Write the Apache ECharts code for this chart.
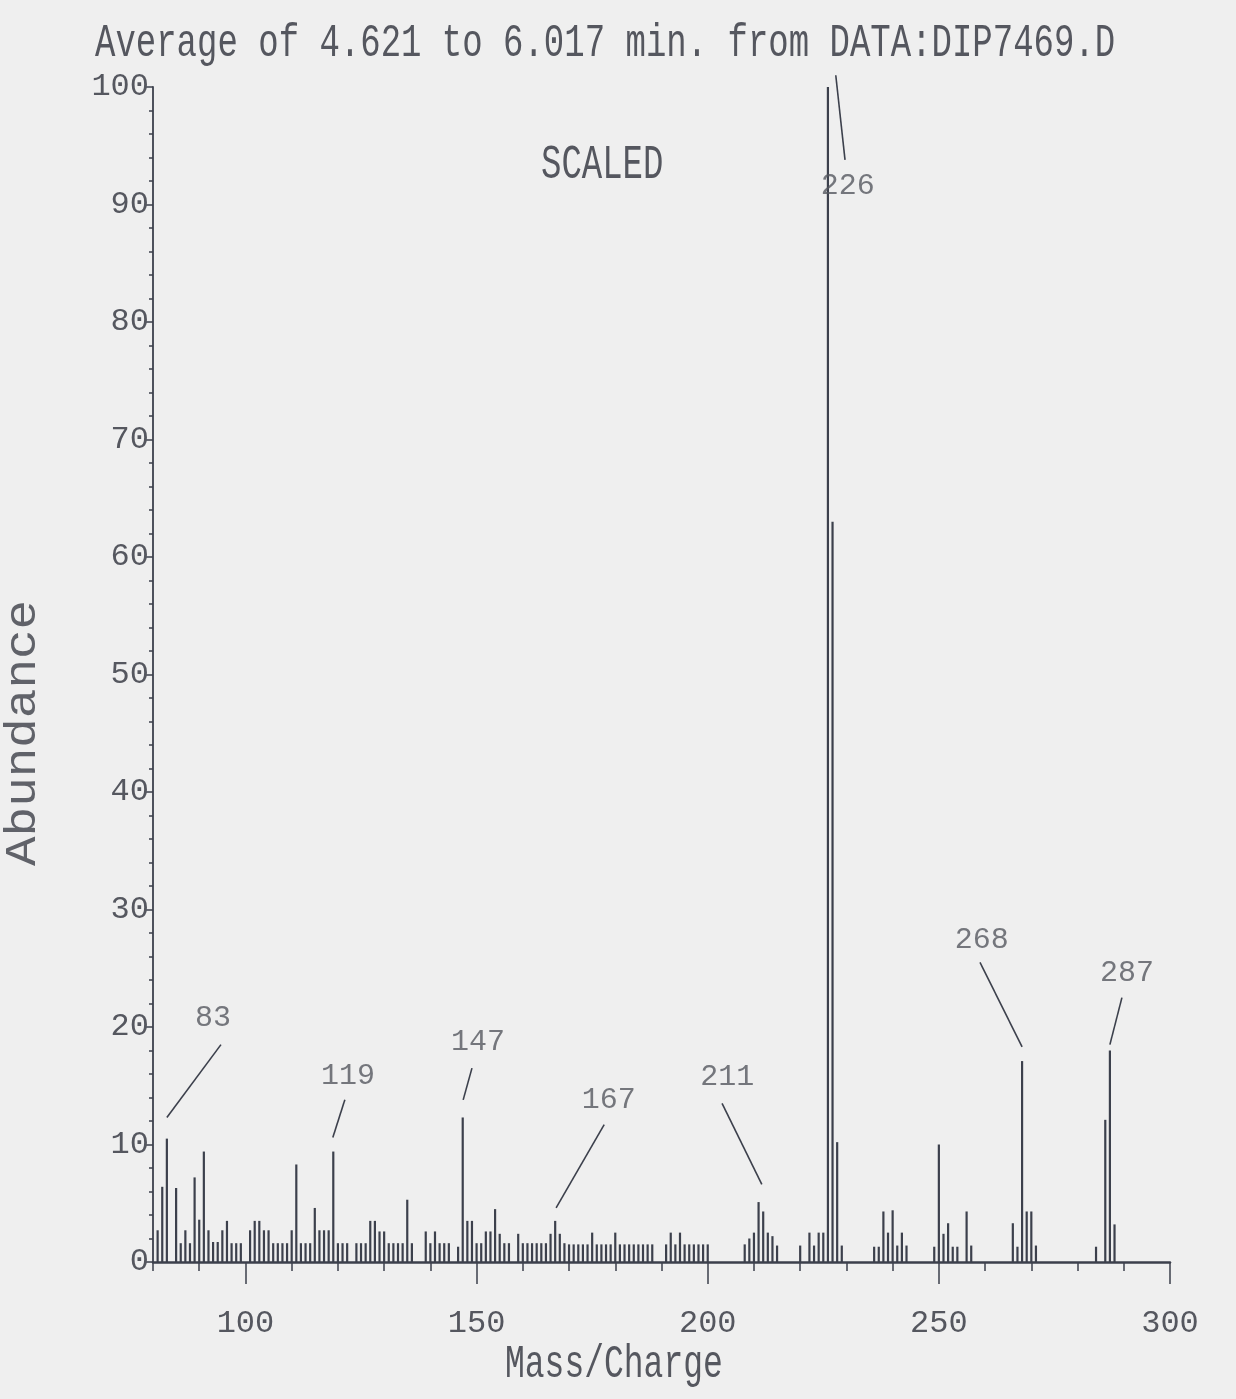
<!DOCTYPE html>
<html><head><meta charset="utf-8">
<script src="https://cdn.jsdelivr.net/npm/echarts@6/dist/echarts.min.js"></script>
<style>html,body{margin:0;padding:0;background:#efefef}#c{width:1236px;height:1399px}</style>
</head><body><div id="c"></div>
<script>
// m/z values and their relative abundances (%)
const masses = [81,82,83,85,86,87,88,89,90,91,92,93,94,95,96,97,98,99,101,102,103,104,105,106,107,108,109,110,111,112,113,114,115,116,117,118,119,120,121,122,124,125,126,127,128,129,130,131,132,133,134,135,136,139,140,141,142,143,144,146,147,148,149,150,151,152,153,154,155,156,157,159,160,161,162,163,164,165,166,167,168,169,170,171,172,173,174,175,176,177,178,179,180,181,182,183,184,185,186,187,188,191,192,193,194,195,196,197,198,199,200,208,209,210,211,212,213,214,215,220,222,223,224,225,226,227,228,229,236,237,238,239,240,241,242,243,249,250,251,252,253,254,256,257,266,267,268,269,270,271,284,286,287,288];
const abundances = [2.7,6.4,10.5,6.3,1.6,2.7,1.6,7.2,3.6,9.4,2.7,1.7,1.7,2.7,3.5,1.6,1.6,1.6,2.7,3.5,3.5,2.7,2.7,1.6,1.6,1.6,1.6,2.7,8.3,1.6,1.6,1.6,4.6,2.7,2.7,2.7,9.4,1.6,1.6,1.6,1.6,1.6,1.6,3.5,3.5,2.6,2.6,1.6,1.6,1.6,1.6,5.3,1.6,2.6,1.6,2.6,1.6,1.6,1.6,1.3,12.3,3.5,3.5,1.6,1.6,2.6,2.6,4.5,2.4,1.6,1.6,2.4,1.6,1.6,1.6,1.6,1.6,1.6,2.4,3.5,2.4,1.6,1.5,1.5,1.5,1.5,1.5,2.5,1.5,1.5,1.5,1.5,2.5,1.5,1.5,1.5,1.5,1.5,1.5,1.5,1.5,1.5,2.5,1.5,2.5,1.5,1.5,1.5,1.5,1.5,1.5,1.5,2.0,2.5,5.1,4.3,2.5,2.2,1.4,1.4,2.5,1.4,2.5,2.5,100,63,10.2,1.4,1.3,1.3,4.3,2.5,4.4,1.4,2.5,1.4,1.3,10.0,2.4,3.3,1.3,1.3,4.3,1.4,3.3,1.3,17.1,4.3,4.3,1.4,1.3,12.1,18.0,3.2];

// tick labels
const xMajorTicks = [100,150,200,250,300];
const yTicks = [0,10,20,30,40,50,60,70,80,90,100];

// peak annotations: label text, label centre, leader line start/end (data coords)
const annotLabels = ['83','119','147','167','211','226','268','287'];
const annotTextAt = [[93.0,20.8],[122.2,15.8],[150.3,18.7],[178.6,13.8],[204.2,15.7],[230.3,91.6],[259.3,27.4],[290.7,24.6]];
const annotFrom = [[94.7,18.5],[121.5,13.8],[149.0,16.5],[177.6,11.7],[203.1,13.5],[227.7,101.0],[258.9,25.5],[289.6,22.5]];
const annotTo = [[83.0,12.3],[118.9,10.6],[147.1,13.8],[167.2,4.6],[211.7,6.6],[229.7,93.8],[268.0,18.3],[287.0,18.5]];

const FONT = 'Liberation Mono';
const INK = '#3c404c';
const TXT = '#55575f';

const chart = echarts.init(document.getElementById('c'), null, {renderer: 'canvas'});

const barData = masses.map((m, i) => [m, abundances[i]]);
const leaderSeries = annotFrom.map((f, i) => ({
  type: 'line', xAxisIndex: 0, yAxisIndex: 0, data: [f, annotTo[i]],
  symbol: 'none', clip: false, silent: true,
  lineStyle: {color: INK, width: 1.6}
}));

chart.setOption({
  animation: false,
  backgroundColor: '#efefef',
  grid: [
    {left: 153, right: 66, top: 87, bottom: 137},
    {left: 153, right: 66, top: 87, bottom: 137}
  ],
  xAxis: [
    {
      type: 'value', gridIndex: 0, min: 80, max: 300, interval: 10,
      axisLine: {show: true, lineStyle: {color: INK, width: 2.5}},
      axisTick: {show: true, length: 9, lineStyle: {color: INK, width: 1.5}},
      axisLabel: {show: true, customValues: xMajorTicks, fontFamily: FONT, fontSize: 32, color: TXT, margin: 46},
      splitLine: {show: false}
    },
    {
      type: 'value', gridIndex: 1, min: 80, max: 300,
      axisLine: {show: false},
      axisTick: {show: true, customValues: xMajorTicks, length: 22, lineStyle: {color: INK, width: 1.5}},
      axisLabel: {show: false},
      splitLine: {show: false}
    }
  ],
  yAxis: [
    {
      type: 'value', gridIndex: 0, min: 0, max: 100, interval: 10,
      axisLine: {show: true, lineStyle: {color: INK, width: 1.8}},
      axisTick: {show: true, length: 8, lineStyle: {color: INK, width: 1.5}},
      minorTick: {show: true, splitNumber: 5, length: 4, lineStyle: {color: INK, width: 1.5}},
      axisLabel: {fontFamily: FONT, fontSize: 32, color: TXT, margin: 4},
      splitLine: {show: false}
    },
    {
      type: 'value', gridIndex: 1, min: 0, max: 100, show: false
    }
  ],
  graphic: [
    {type: 'text', x: 95, y: 21, scaleY: 1.35, style: {text: 'Average of 4.621 to 6.017 min. from DATA:DIP7469.D', font: '34px "Liberation Mono"', fill: TXT, textVerticalAlign: 'top'}},
    {type: 'text', x: 541, y: 142, scaleY: 1.4, style: {text: 'SCALED', font: '34px "Liberation Mono"', fill: TXT, textVerticalAlign: 'top'}},
    {type: 'text', x: 505, y: 1342, scaleY: 1.4, style: {text: 'Mass/Charge', font: '33px "Liberation Mono"', fill: TXT, textVerticalAlign: 'top'}},
    {type: 'text', x: 1, y: 866, rotation: Math.PI / 2, scaleX: 1.12, style: {text: 'Abundance', font: '44px "Liberation Mono"', fill: '#606269', textVerticalAlign: 'top'}}
  ],
  series: [
    {
      type: 'bar', xAxisIndex: 0, yAxisIndex: 0, data: barData,
      barWidth: 2.2, itemStyle: {color: INK}, silent: true
    },
    ...leaderSeries,
    {
      type: 'scatter', xAxisIndex: 0, yAxisIndex: 0, data: annotTextAt, symbolSize: 1,
      itemStyle: {color: 'transparent'}, silent: true,
      label: {show: true, position: 'inside', formatter: p => annotLabels[p.dataIndex],
        fontFamily: FONT, fontSize: 30, color: TXT}
    }
  ]
});
</script></body></html>
